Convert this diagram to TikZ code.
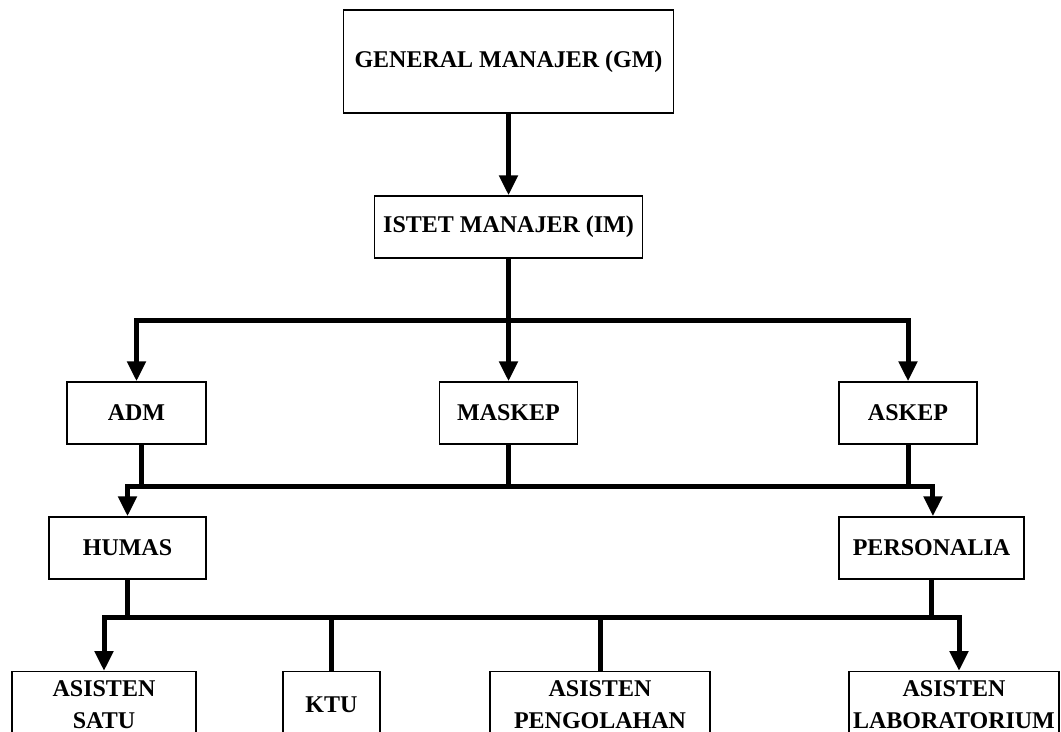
\documentclass[tikz,border=0pt]{standalone}
\usepackage{fontspec}
\setmainfont{Liberation Serif}
\usetikzlibrary{arrows.meta}
\tikzset{
  box/.style={draw, line width=1.1pt, inner sep=0pt, align=center,
    font=\bfseries\fontsize{18}{24}\selectfont},
  lbl/.style={inner sep=0pt, align=center,
    font=\bfseries\fontsize{18}{24}\selectfont},
  conn/.style={line width=3.75pt},
  arr/.style={conn, -{Triangle[length=15pt,width=13.5pt]}}
}
\begin{document}
\begin{tikzpicture}[x=0.75pt,y=-0.75pt]
\useasboundingbox (0,0) rectangle (1061,732);
\clip (0,0) rectangle (1061,732);
% nodes
\node[box, minimum width=247.5pt, minimum height=77.25pt] (gm) at (508.5,61.5) {GENERAL MANAJER (GM)};
\node[box, minimum width=201pt, minimum height=46.5pt] (im) at (508.5,227) {ISTET MANAJER (IM)};
\node[box, minimum width=104.25pt, minimum height=46.5pt] (adm) at (136.5,413) {ADM};
\node[box, minimum width=103.5pt, minimum height=46.5pt] (maskep) at (508.5,413) {MASKEP};
\node[box, minimum width=103.5pt, minimum height=46.5pt] (askep) at (908,413) {ASKEP};
\node[box, minimum width=117.75pt, minimum height=46.5pt] (humas) at (127.5,548) {HUMAS};
\node[box, minimum width=138.75pt, minimum height=46.5pt] (pers) at (931.5,548) {PERSONALIA};
\node[box, anchor=north, minimum width=138pt, minimum height=90pt] (satu) at (104,671) {};
\node[box, anchor=north, minimum width=72.75pt, minimum height=90pt] (ktu) at (331.5,671) {};
\node[box, anchor=north, minimum width=165pt, minimum height=90pt] (peng) at (600,671) {};
\node[box, anchor=north, minimum width=157.5pt, minimum height=90pt] (lab) at (954,671) {};
\node[lbl] (satut) at (104,705) {ASISTEN\\SATU};
\node[lbl] (ktut) at (331.5,705) {KTU};
\node[lbl] (pengt) at (600,705) {ASISTEN\\PENGOLAHAN};
\node[lbl] (labt) at (954,705) {ASISTEN\\LABORATORIUM};
% level 1
\draw[arr] (gm.south) -- (im.north);
\coordinate (b1) at (508.5,320);
\draw[arr] (im.south) -- (maskep.north);
\draw[arr] (b1) -| (adm.north);
\draw[arr] (b1) -| (askep.north);
% level 2
\coordinate (b2) at (508.5,486);
\draw[conn] (maskep.south) -- (b2);
\draw[conn] ([xshift=3.4pt]adm.south) -- ([xshift=3.4pt]adm.south |- b2);
\draw[conn] (askep.south) -- (askep.south |- b2);
\draw[arr] (b2) -| (humas.north);
\draw[arr] (b2) -| ([xshift=1.1pt]pers.north);
% level 3
\coordinate (b3) at (530,617);
\draw[conn] (humas.south) -- (humas.south |- b3);
\draw[conn] (pers.south) -- (pers.south |- b3);
\draw[arr] (b3) -| (satu.north);
\draw[arr] (b3) -| ([xshift=3.75pt]lab.north);
\draw[conn] (ktu.north |- b3) -- (ktu.north);
\draw[conn] (peng.north |- b3) -- (peng.north);
\end{tikzpicture}
\end{document}
